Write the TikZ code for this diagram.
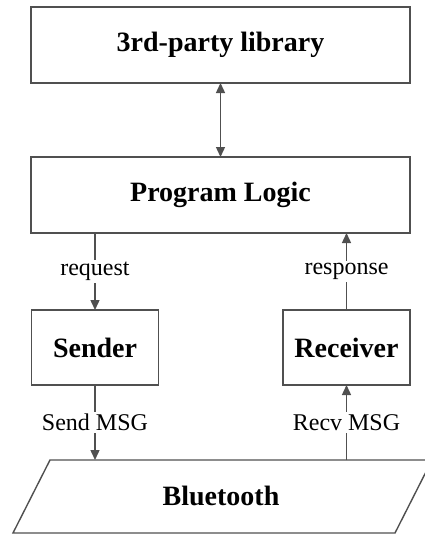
\documentclass[tikz,border=0pt]{standalone}
\usepackage{fontspec}
\setmainfont{Liberation Serif}
\usetikzlibrary{arrows.meta}
\definecolor{linegray}{HTML}{505050}
\begin{document}
\begin{tikzpicture}[x=1pt,y=-1pt,
  box/.style={draw=linegray, line width=1.4pt, inner sep=0pt, outer sep=0pt,
    font=\fontsize{28}{32}\selectfont\bfseries},
  arr/.style={draw=linegray, line width=1.4pt, -{Triangle[length=10pt,width=9pt]}},
  darr/.style={draw=linegray, line width=1.4pt, {Triangle[length=10pt,width=9pt]}-{Triangle[length=10pt,width=9pt]}},
  lbl/.style={fill=white, inner sep=2pt, font=\fontsize{24}{28}\selectfont}]
\useasboundingbox (0,0) rectangle (425,535);
\clip (0,0) rectangle (425,535);
\node[box, minimum width=379pt, minimum height=76pt] (lib) at (220.5,45) {3rd-party library};
\node[box, minimum width=379pt, minimum height=76pt] (logic) at (220.5,195) {Program Logic};
\node[box, minimum width=127pt, minimum height=75pt] (send) at (95,347.5) {Sender};
\node[box, minimum width=127pt, minimum height=75pt] (recv) at (346.5,347.5) {Receiver};
\draw[draw=linegray, line width=1.4pt] (50,460) -- (432,460) -- (395,533) -- (13,533) -- cycle;
\node[font=\fontsize{28}{32}\selectfont\bfseries] (bt) at (221,496) {Bluetooth};
\coordinate (btin) at (95,460);
\coordinate (btout) at (346.5,460);
\draw[darr] (lib.south) -- (logic.north);
\draw[arr] (logic.south -| send.north) -- node[lbl] {request} (send.north);
\draw[arr] (recv.north) -- node[lbl] {response} (logic.south -| recv.north);
\draw[arr] (send.south) -- node[lbl] {Send MSG} (btin);
\draw[arr] (btout) -- node[lbl] {Recv MSG} (recv.south);
\end{tikzpicture}
\end{document}
